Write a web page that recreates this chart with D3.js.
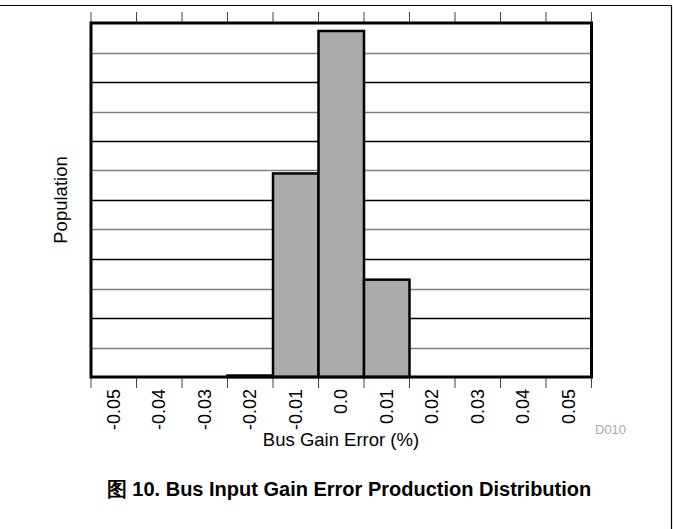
<!DOCTYPE html>
<html><head><meta charset="utf-8">
<script src="https://cdn.jsdelivr.net/npm/d3@7"></script>
<style>body{margin:0;background:#fff}svg{display:block}text{font-family:"Liberation Sans",Arial,sans-serif}</style>
</head><body>
<svg id="c" width="673" height="529"></svg>
<script>
const binCenters = [-0.05,-0.04,-0.03,-0.02,-0.01,0.0,0.01,0.02,0.03,0.04,0.05];
const tickLabels = ["-0.05","-0.04","-0.03","-0.02","-0.01","0.0","0.01","0.02","0.03","0.04","0.05"];
const population = [0,0,0,0.05,6.9,11.73,3.3,0,0,0,0];
const xTitle = "Bus Gain Error (%)";
const yTitle = "Population";
const caption = "图 10. Bus Input Gain Error Production Distribution";
const code = "D010";

const svg = d3.select("#c");
const L=91, R=591.5, T=23, B=377;
const x = d3.scaleLinear().domain([-0.055,0.055]).range([L,R]);
const y = d3.scaleLinear().domain([0,12]).range([B,T]);
const edges = d3.range(12).map(i=>-0.055+i*0.01);

// outer frame
svg.append("line").attr("x1",0).attr("x2",671.5).attr("y1",5.5).attr("y2",5.5).attr("stroke","#000").attr("stroke-width",1.2);
svg.append("line").attr("x1",671.5).attr("x2",671.5).attr("y1",5.5).attr("y2",529).attr("stroke","#000").attr("stroke-width",1.2);

// gridlines
d3.range(1,12).forEach(v=>{
  svg.append("line").attr("x1",L).attr("x2",R).attr("y1",Math.round(y(v))+0.5).attr("y2",Math.round(y(v))+0.5)
    .attr("stroke", v%2===1?"#808080":"#000").attr("stroke-width",1.3);
});

// bars
svg.append("g").selectAll("rect").data(binCenters.map((c,i)=>({c,v:population[i]})).filter(d=>d.v>0))
  .join("rect")
  .attr("x",d=>x(d.c-0.005)).attr("width",d=>x(d.c+0.005)-x(d.c-0.005))
  .attr("y",d=>y(d.v)).attr("height",d=>B-y(d.v))
  .attr("fill","#aaaaaa").attr("stroke","#000").attr("stroke-width",2.5);

// top ticks
svg.append("g").selectAll("line").data(edges).join("line")
  .attr("x1",d=>x(d)).attr("x2",d=>x(d)).attr("y1",12).attr("y2",T)
  .attr("stroke","#444").attr("stroke-width",1);
// bottom ticks
svg.append("g").selectAll("line").data(edges).join("line")
  .attr("x1",d=>x(d)).attr("x2",d=>x(d)).attr("y1",B).attr("y2",388)
  .attr("stroke","#444").attr("stroke-width",1);

// plot border
svg.append("rect").attr("x",L).attr("y",T).attr("width",R-L).attr("height",B-T)
  .attr("fill","none").attr("stroke","#000").attr("stroke-width",3);

// tick labels
svg.append("g").selectAll("text").data(binCenters).join("text")
  .attr("transform",(d,i)=>`translate(${x(d)+6},${389}) rotate(-90)`)
  .attr("text-anchor","end").attr("font-size",18).attr("fill","#000")
  .text((d,i)=>tickLabels[i]);

svg.append("text").attr("x",341).attr("y",446).attr("text-anchor","middle").attr("font-size",18.5).text(xTitle);
svg.append("text").attr("transform","translate(67,200) rotate(-90)").attr("text-anchor","middle").attr("font-size",18.5).text(yTitle);
svg.append("text").attr("x",595).attr("y",434).attr("font-size",13).attr("fill","#aaa").text(code);
svg.append("text").attr("x",349).attr("y",496).attr("text-anchor","middle").attr("font-size",20).attr("font-weight","bold").text(caption);
</script>
</body></html>
